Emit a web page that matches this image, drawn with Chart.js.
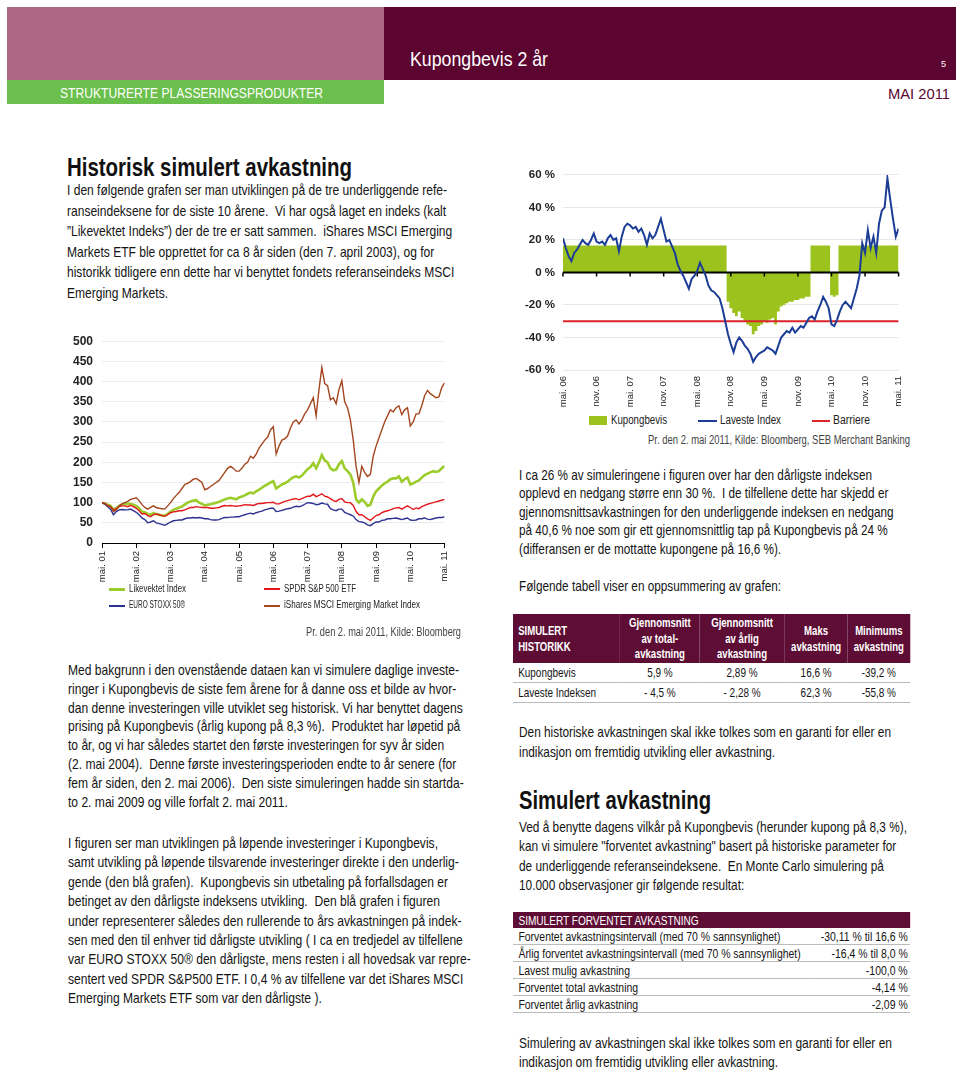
<!DOCTYPE html>
<html>
<head>
<meta charset="utf-8">
<script src="https://cdn.jsdelivr.net/npm/chart.js@4.4.0/dist/chart.umd.min.js"></script>
<style>
  body { margin: 0; background: #fff; }
  #page { position: relative; width: 960px; height: 1073px; overflow: hidden; background: #fff;
          font-family: 'Liberation Sans', Arial, sans-serif; color: #141414; }
  .abs { position: absolute; white-space: nowrap; }
  .para { font-size: 14.2px; }
  .h2 { font-size: 25px; font-weight: bold; line-height: 28px; color: #111; }
  .src { font-size: 12px; color: #444; }
  .lg { font-size: 10px; color: #222; line-height: 12px; }
  .rl { font-size: 12.5px; color: #222; line-height: 14px; }
  table { border-collapse: collapse; }
  #t1 th { background: #5e0d35; color: #fff; font-size: 13px; font-weight: bold; line-height: 15.5px; padding: 0 2px; height: 49px; }
  #t1 td { font-size: 13.5px; height: 19px; border-bottom: 1px solid #bbb; padding: 0 2px; text-align: center; }
  #t1 td:first-child { text-align: left; padding-left: 7px; }
  #t2 th { background: #5e0d35; color: #fff; font-size: 13px; font-weight: normal; text-align: left; padding: 0 7px; height: 16px; }
  #t2 td { font-size: 13.5px; height: 16px; border-bottom: 1px solid #bbb; padding: 0 3px 0 7px; }
  #t2 td.v { text-align: right; }
</style>
</head>
<body>
<div id="page">
  <!-- header -->
  <div class="abs" style="left:7px;top:7px;width:377px;height:73px;background:#ad6787;"></div>
  <div class="abs" style="left:384px;top:7px;width:572px;height:73px;background:#5b0530;"></div>
  <div class="abs" style="left:7px;top:80px;width:377px;height:24px;background:#6bbf4c;"></div>
  <div class="abs" data-w="138" style="left:410px;top:47px;font-size:21px;color:#fff;">Kupongbevis 2 år</div>
  <div class="abs" style="left:941px;top:59px;font-size:9px;color:#fff;">5</div>
  <div class="abs" data-w="263" style="left:60px;top:84px;font-size:15px;color:#fff;">STRUKTURERTE PLASSERINGSPRODUKTER</div>
  <div class="abs" data-w="62" style="left:888px;top:85px;font-size:15px;color:#5b0530;">MAI 2011</div>

  <!-- left column -->
  <div class="abs h2" data-w="285" style="left:67px;top:153px;">Historisk simulert avkastning</div>
  <div class="abs para" data-w="380" style="left:67px;top:180px;line-height:20.6px;"><span>I den følgende grafen ser man utviklingen på de tre underliggende refe-</span><br><span>ranseindeksene for de siste 10 årene.&nbsp; Vi har også laget en indeks (kalt</span><br><span>”Likevektet Indeks”) der de tre er satt sammen.&nbsp; iShares MSCI Emerging</span><br><span>Markets ETF ble opprettet for ca 8 år siden (den 7. april 2003), og for</span><br><span>historikk tidligere enn dette har vi benyttet fondets referanseindeks MSCI</span><br><span>Emerging Markets.</span></div>

  <canvas id="leftChart" class="abs" width="399" height="260" style="left:60px;top:325px;"></canvas>
  <div class="abs" style="left:109px;top:588px;width:16px;height:3px;background:#9ccc2c;"></div>
  <div class="abs lg" data-w="57" style="left:129px;top:583px;">Likevektet Index</div>
  <div class="abs" style="left:264px;top:588px;width:16px;height:2px;background:#e3171c;"></div>
  <div class="abs lg" data-w="72" style="left:284px;top:583px;">SPDR S&amp;P 500 ETF</div>
  <div class="abs" style="left:109px;top:605px;width:16px;height:2px;background:#2d3190;"></div>
  <div class="abs lg" data-w="56" style="left:129px;top:599px;">EURO STOXX 50®</div>
  <div class="abs" style="left:264px;top:605px;width:16px;height:2px;background:#a4461f;"></div>
  <div class="abs lg" data-w="136" style="left:284px;top:599px;">iShares MSCI Emerging Market Index</div>
  <div class="abs src" data-w="155" style="left:306px;top:625px;">Pr. den 2. mai 2011, Kilde: Bloomberg</div>

  <div class="abs para" data-w="391" style="left:68px;top:661px;line-height:18.8px;"><span>Med bakgrunn i den ovenstående dataen kan vi simulere daglige investe-</span><br><span>ringer i Kupongbevis de siste fem årene for å danne oss et bilde av hvor-</span><br><span>dan denne investeringen ville utviklet seg historisk. Vi har benyttet dagens</span><br><span>prising på Kupongbevis (årlig kupong på 8,3 %).&nbsp; Produktet har løpetid på</span><br><span>to år, og vi har således startet den første investeringen for syv år siden</span><br><span>(2. mai 2004).&nbsp; Denne første investeringsperioden endte to år senere (for</span><br><span>fem år siden, den 2. mai 2006).&nbsp; Den siste simuleringen hadde sin startda-</span><br><span>to 2. mai 2009 og ville forfalt 2. mai 2011.</span></div>

  <div class="abs para" data-w="370" style="left:68px;top:834px;line-height:19.4px;"><span>I figuren ser man utviklingen på løpende investeringer i Kupongbevis,</span><br><span>samt utvikling på løpende tilsvarende investeringer direkte i den underlig-</span><br><span>gende (den blå grafen).&nbsp; Kupongbevis sin utbetaling på forfallsdagen er</span><br><span>betinget av den dårligste indeksens utvikling.&nbsp; Den blå grafen i figuren</span><br><span>under representerer således den rullerende to års avkastningen på indek-</span><br><span>sen med den til enhver tid dårligste utvikling ( I ca en tredjedel av tilfellene</span><br><span>var EURO STOXX 50® den dårligste, mens resten i all hovedsak var repre-</span><br><span>sentert ved SPDR S&amp;P500 ETF. I 0,4 % av tilfellene var det iShares MSCI</span><br><span>Emerging Markets ETF som var den dårligste ).</span></div>

  <!-- right column -->
  <canvas id="rightChart" class="abs" width="404" height="252" style="left:512px;top:160px;"></canvas>
  <div class="abs" style="left:589px;top:416px;width:18px;height:9px;background:#9cc31d;"></div>
  <div class="abs rl" data-w="56" style="left:611px;top:413px;">Kupongbevis</div>
  <div class="abs" style="left:698px;top:420px;width:19px;height:2px;background:#1c3d95;"></div>
  <div class="abs rl" data-w="61" style="left:720px;top:413px;">Laveste Index</div>
  <div class="abs" style="left:812px;top:420px;width:18px;height:2px;background:#d9252b;"></div>
  <div class="abs rl" data-w="37" style="left:833px;top:413px;">Barriere</div>
  <div class="abs src" data-w="262" style="left:648px;top:433px;">Pr. den 2. mai 2011, Kilde: Bloomberg, SEB Merchant Banking</div>

  <div class="abs para" data-w="353" style="left:519px;top:466px;line-height:18.4px;"><span>I ca 26 % av simuleringene i figuren over har den dårligste indeksen</span><br><span>opplevd en nedgang større enn 30 %.&nbsp; I de tilfellene dette har skjedd er</span><br><span>gjennomsnittsavkastningen for den underliggende indeksen en nedgang</span><br><span>på 40,6 % noe som gir ett gjennomsnittlig tap på Kupongbevis på 24 %</span><br><span>(differansen er de mottatte kupongene på 16,6 %).</span></div>
  <div class="abs para" data-w="262" style="left:519px;top:578px;">Følgende tabell viser en oppsummering av grafen:</div>

  <table id="t1" class="abs" style="left:513px;top:614px;width:397px;">
    <tr>
      <th style="width:27%;text-align:left;padding-left:7px;">SIMULERT<br>HISTORIKK</th>
      <th style="width:20%;">Gjennomsnitt<br>av total-<br>avkastning</th>
      <th style="width:21.4%;">Gjennomsnitt<br>av årlig<br>avkastning</th>
      <th style="width:15.9%;">Maks<br>avkastning</th>
      <th style="width:15.7%;">Minimums<br>avkastning</th>
    </tr>
    <tr><td>Kupongbevis</td><td>5,9 %</td><td>2,89 %</td><td>16,6 %</td><td>-39,2 %</td></tr>
    <tr><td><span id="t1ref">Laveste Indeksen</span></td><td>- 4,5 %</td><td>- 2,28 %</td><td>62,3 %</td><td>-55,8 %</td></tr>
  </table>

  <div class="abs para" data-w="372" style="left:519px;top:723px;line-height:19.5px;"><span>Den historiske avkastningen skal ikke tolkes som en garanti for eller en</span><br><span>indikasjon om fremtidig utvikling eller avkastning.</span></div>

  <div class="abs h2" data-w="192" style="left:519px;top:786px;">Simulert avkastning</div>
  <div class="abs para" data-w="388" style="left:519px;top:818px;line-height:19.3px;"><span>Ved å benytte dagens vilkår på Kupongbevis (herunder kupong på 8,3 %),</span><br><span>kan vi simulere "forventet avkastning" basert på historiske parameter for</span><br><span>de underliggende referanseindeksene.&nbsp; En Monte Carlo simulering på</span><br><span>10.000 observasjoner gir følgende resultat:</span></div>

  <table id="t2" class="abs" style="left:513px;top:912px;width:397px;">
    <tr><th colspan="2">SIMULERT FORVENTET AVKASTNING</th></tr>
    <tr><td><span id="t2ref">Forventet avkastningsintervall (med 70 % sannsynlighet)</span></td><td class="v">-30,11 % til 16,6 %</td></tr>
    <tr><td>Årlig forventet avkastningsintervall (med 70 % sannsynlighet)</td><td class="v">-16,4 % til 8,0 %</td></tr>
    <tr><td>Lavest mulig avkastning</td><td class="v">-100,0 %</td></tr>
    <tr><td>Forventet total avkastning</td><td class="v">-4,14 %</td></tr>
    <tr><td>Forventet årlig avkastning</td><td class="v">-2,09 %</td></tr>
  </table>

  <div class="abs para" data-w="373" style="left:519px;top:1034px;line-height:19.3px;"><span>Simulering av avkastningen skal ikke tolkes som en garanti for eller en</span><br><span>indikasjon om fremtidig utvikling eller avkastning.</span></div>
</div>

<script>
const FONT = "'Liberation Sans', Arial, sans-serif";

// ---- left chart: monthly index levels, mai 01 .. mai 11 (start = 100)
const yearTicks = ['mai. 01', 'mai. 02', 'mai. 03', 'mai. 04', 'mai. 05', 'mai. 06',
                   'mai. 07', 'mai. 08', 'mai. 09', 'mai. 10', 'mai. 11'];
const emerging = [
  100, 98, 92, 90, 78, 82, 92, 97, 100, 103, 108, 110,
  112, 105, 95, 88, 84, 88, 92, 88, 86, 85, 84, 92,
  100, 110, 118, 125, 135, 145, 148, 152, 158, 160, 155, 150,
  132, 135, 140, 145, 150, 155, 165, 175, 185, 190, 185, 178,
  178, 185, 195, 200, 215, 210, 220, 235, 245, 255, 262, 280,
  288, 220, 240, 255, 258, 265, 285, 300, 305, 295, 305, 320,
  330, 345, 360, 315, 380, 435, 395, 390, 355, 360, 345, 380,
  402, 350, 335, 305, 255, 190, 150, 190, 175, 165, 170, 215,
  240, 260, 280, 300, 315, 330, 325, 335, 340, 318, 330, 335,
  290, 300, 320, 320, 340, 365, 378, 370, 365, 360, 362, 385,
  397
];
const likevektet = [
  100, 98, 95, 92, 83, 86, 92, 95, 96, 97, 97, 95,
  92, 86, 78, 76, 72, 70, 74, 72, 70, 68, 68, 72,
  78, 82, 85, 88, 90, 95, 100, 103, 105, 106, 100, 97,
  93, 95, 96, 98, 100, 102, 105, 108, 110, 112, 110, 108,
  113, 115, 118, 122, 125, 123, 128, 132, 137, 142, 145, 150,
  153, 135, 140, 145, 148, 152, 158, 163, 165, 162, 167, 175,
  183, 188, 198, 185, 200, 218, 205, 200, 185, 180, 182, 195,
  203, 185, 178, 170, 150, 108, 100, 108, 102, 92, 95, 115,
  128, 135, 142, 148, 152, 158, 160, 160, 165, 152, 158, 162,
  145, 148, 152, 155, 162, 168, 172, 175, 178, 176, 178, 185,
  191
];
const spdr = [
  100, 98, 93, 90, 82, 85, 90, 92, 92, 90, 93, 90,
  86, 80, 72, 73, 68, 65, 70, 72, 70, 68, 66, 70,
  75, 77, 78, 80, 80, 82, 85, 88, 88, 90, 89, 88,
  88, 88, 86, 86, 87, 88, 91, 93, 92, 93, 92, 91,
  92, 93, 95, 94, 94, 93, 96, 98, 98, 99, 100, 100,
  101, 97, 97, 100, 103, 105, 107, 109, 110, 107, 110, 113,
  116, 116, 121, 115, 118, 122, 116, 114, 110, 105, 103, 108,
  110, 102, 100, 100, 93, 78, 70, 70, 65, 60, 56, 62,
  68, 70, 75, 78, 80, 82, 85, 87, 88, 84, 88, 92,
  88, 83, 87, 85, 90, 93, 96, 98, 100, 102, 104, 106,
  108
];
const eurostoxx = [
  100, 96, 90, 84, 70, 78, 82, 83, 82, 82, 84, 80,
  76, 70, 62, 58, 50, 52, 55, 50, 48, 46, 44, 48,
  52, 55, 56, 57, 57, 60, 62, 62, 63, 62, 63, 62,
  60, 60, 58, 57, 57, 58, 61, 63, 63, 64, 64, 65,
  65, 68, 70, 72, 74, 72, 75, 77, 79, 82, 84, 86,
  86, 78, 79, 81, 83, 85, 86, 89, 91, 90, 92, 96,
  100, 99, 98, 95, 96, 99, 97, 96, 85, 82, 80, 84,
  84, 76, 73, 70, 67, 58, 53, 52, 50, 45, 43, 48,
  52, 52, 56, 57, 60, 60, 61, 62, 60, 58, 60, 62,
  57, 56, 57, 60, 60, 62, 59, 58, 60, 62, 63, 63,
  65
];

// ---- right chart: half-month steps, mai 06 .. mai 11, in %
const halfYearTicks = ['mai. 06', 'nov. 06', 'mai. 07', 'nov. 07', 'mai. 08', 'nov. 08',
                       'mai. 09', 'nov. 09', 'mai. 10', 'nov. 10', 'mai. 11'];
const lavesteIndex = [
  21, 15, 10, 7, 12, 14, 17, 20, 18, 17, 20, 24,
  19, 18, 19, 17, 21, 23, 20, 21, 13, 22, 28, 30,
  29, 27, 28, 25, 27, 23, 17, 24, 21, 23, 28, 33,
  26, 19, 20, 16, 12, 5, 1, -2, -6, -10, -4, -2,
  1, 6, 2, -2, -8, -11, -12, -14, -16, -22, -30, -38,
  -44, -49, -43, -40, -42, -45, -47, -50, -55, -52, -50, -49,
  -48, -46, -47, -48, -50, -45, -40, -38, -36, -37, -34, -37,
  -35, -33, -34, -31, -28, -27, -29, -24, -20, -15, -18, -22,
  -32, -33, -29, -24, -20, -18, -20, -22, -16, -10, -2, 18,
  12, 26, 15, 22, 12, 30, 38, 40, 58, 45, 33, 22,
  27
];
const kupongbevis = [
  16.6, 16.6, 16.6, 16.6, 16.6, 16.6, 16.6, 16.6, 16.6, 16.6, 16.6, 16.6,
  16.6, 16.6, 16.6, 16.6, 16.6, 16.6, 16.6, 16.6, 16.6, 16.6, 16.6, 16.6,
  16.6, 16.6, 16.6, 16.6, 16.6, 16.6, 16.6, 16.6, 16.6, 16.6, 16.6, 16.6,
  16.6, 16.6, 16.6, 16.6, 16.6, 16.6, 16.6, 16.6, 16.6, 16.6, 16.6, 16.6,
  16.6, 16.6, 16.6, 16.6, 16.6, 16.6, 16.6, 16.6, 16.6, 16.6, 16.6, -18,
  -22, -25, -27, -24, -28, -30, -32, -33, -38, -36, -33, -32,
  -30, -31, -29, -28, -32, -24, -21, -20, -19, -18, -18, -17,
  -17, -16, -16, -15, -15, 16.6, 16.6, 16.6, 16.6, 16.6, 16.6, 16.6,
  -14, -15, -14, 16.6, 16.6, 16.6, 16.6, 16.6, 16.6, 16.6, 16.6, 16.6,
  16.6, 16.6, 16.6, 16.6, 16.6, 16.6, 16.6, 16.6, 16.6, 16.6, 16.6, 16.6,
  16.6
];
const barriere = -30;

// squeeze texts horizontally to the condensed widths of the print
document.querySelectorAll('[data-w]').forEach(el => {
  const first = el.querySelector('span') || el;
  const w = first.getBoundingClientRect().width;
  el.style.transformOrigin = '0 0';
  el.style.transform = 'scaleX(' + (parseFloat(el.dataset.w) / w) + ')';
});
const fitTable = (id, refId, target) => {
  const t = document.getElementById(id);
  const s = target / document.getElementById(refId).getBoundingClientRect().width;
  t.style.width = (397 / s) + 'px';
  t.style.transformOrigin = '0 0';
  t.style.transform = 'scaleX(' + s + ')';
};
fitTable('t1', 't1ref', 78);
fitTable('t2', 't2ref', 262);

Chart.defaults.font.family = FONT;

const monthly = arr => arr.map((v, i) => ({ x: i, y: v }));
const halfMonthly = arr => arr.map((v, i) => ({ x: i / 2, y: v }));

new Chart(document.getElementById('leftChart'), {
  type: 'line',
  data: {
    datasets: [
      { label: 'iShares MSCI Emerging Market Index', data: monthly(emerging), borderColor: '#a4461f', borderWidth: 1.4 },
      { label: 'SPDR S&P 500 ETF', data: monthly(spdr), borderColor: '#e3171c', borderWidth: 1.4 },
      { label: 'EURO STOXX 50®', data: monthly(eurostoxx), borderColor: '#2d3190', borderWidth: 1.4 },
      { label: 'Likevektet Index', data: monthly(likevektet), borderColor: '#9ccc2c', borderWidth: 2.6 }
    ]
  },
  options: {
    responsive: false, animation: false, devicePixelRatio: 1,
    elements: { point: { radius: 0 }, line: { tension: 0 } },
    layout: { padding: { top: 10, right: 4, left: 0, bottom: 0 } },
    plugins: { legend: { display: false }, tooltip: { enabled: false } },
    scales: {
      x: {
        type: 'linear', min: 0, max: 120,
        ticks: { stepSize: 12, minRotation: 90, maxRotation: 90, padding: 3, color: '#222',
                 font: { size: 9.5 }, callback: v => yearTicks[Math.round(v / 12)] },
        grid: { drawOnChartArea: false, color: '#000', tickLength: 5 },
        border: { color: '#000' },
        afterFit: s => { s.height = 42; }
      },
      y: {
        min: 0, max: 500,
        ticks: { stepSize: 50, padding: 9, color: '#222', font: { size: 12, weight: 'bold' } },
        grid: { color: '#ececec', drawTicks: false },
        border: { display: false },
        afterFit: s => { s.width = 42; }
      }
    }
  }
});

// zero line with its small ticks, drawn right after the green area
const zeroAxis = {
  id: 'zeroAxis',
  afterDatasetDraw(chart, args) {
    if (args.index !== 2) return;
    const { ctx, scales: { x, y } } = chart;
    const y0 = y.getPixelForValue(0);
    ctx.save();
    ctx.strokeStyle = '#000';
    ctx.lineWidth = 2;
    ctx.beginPath();
    ctx.moveTo(x.left, y0);
    ctx.lineTo(x.right, y0);
    ctx.stroke();
    ctx.lineWidth = 1.5;
    x.ticks.forEach(t => {
      const px = x.getPixelForValue(t.value);
      ctx.beginPath();
      ctx.moveTo(px, y0);
      ctx.lineTo(px, y0 + 4);
      ctx.stroke();
    });
    ctx.restore();
  }
};

new Chart(document.getElementById('rightChart'), {
  type: 'line',
  data: {
    datasets: [
      { label: 'Laveste Index', data: halfMonthly(lavesteIndex), borderColor: '#1c3d95', borderWidth: 2 },
      { label: 'Barriere', data: [{ x: 0, y: barriere }, { x: 60, y: barriere }], borderColor: '#d9252b', borderWidth: 2 },
      { label: 'Kupongbevis', data: halfMonthly(kupongbevis), borderWidth: 0, borderColor: 'rgba(0,0,0,0)',
        backgroundColor: '#9cc31d', fill: 'origin', stepped: 'middle' }
    ]
  },
  options: {
    responsive: false, animation: false, devicePixelRatio: 1,
    elements: { point: { radius: 0 }, line: { tension: 0 } },
    layout: { padding: { top: 9, right: 0, left: 0, bottom: 0 } },
    plugins: { legend: { display: false }, tooltip: { enabled: false } },
    scales: {
      x: {
        type: 'linear', min: 0, max: 60,
        ticks: { stepSize: 6, minRotation: 90, maxRotation: 90, padding: 6, color: '#222',
                 font: { size: 9.5 }, callback: v => halfYearTicks[Math.round(v / 6)] },
        grid: { display: false, drawTicks: false },
        border: { display: false },
        afterFit: s => { s.height = 42; }
      },
      y: {
        min: -60, max: 60,
        ticks: { stepSize: 20, padding: 8, color: '#222', font: { size: 11.5, weight: 'bold' },
                 callback: v => v + ' %' },
        grid: { color: '#e8e8e8', drawTicks: false },
        border: { display: false },
        afterFit: s => { s.width = 51; }
      }
    }
  },
  plugins: [zeroAxis]
});
</script>
</body>
</html>
